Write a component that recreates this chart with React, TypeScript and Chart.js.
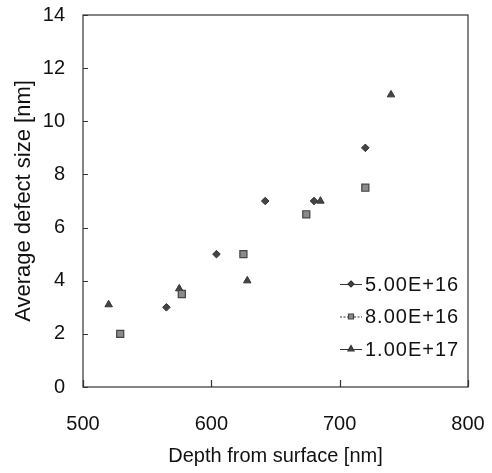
import React, { useEffect, useRef } from "react";
import { Chart, registerables } from "chart.js";

Chart.register(...registerables);

const seriesLabels = ["5.00E+16", "8.00E+16", "1.00E+17"];
const depth5e16 = [565, 604, 642, 680, 720];
const size5e16 = [3.0, 5.0, 7.0, 7.0, 9.0];
const depth8e16 = [529, 577, 625, 674, 720];
const size8e16 = [2.0, 3.5, 5.0, 6.5, 7.5];
const depth1e17 = [520, 575, 628, 685, 740];
const size1e17 = [3.1, 3.7, 4.0, 7.0, 11.0];
const xTicks = [500, 600, 700, 800];
const yTicks = [0, 2, 4, 6, 8, 10, 12, 14];

const FONT = "'Liberation Sans', Arial, sans-serif";

const toPoints = (xs: number[], ys: number[]) => xs.map((x, i) => ({ x, y: ys[i] }));

const framePlugin = {
  id: "frame",
  afterDraw(chart: any) {
    const { ctx, chartArea } = chart;
    const { left, right, top, bottom } = chartArea;
    const xs = chart.scales.x;
    const ys = chart.scales.y;
    ctx.save();
    ctx.strokeStyle = "#333";
    ctx.lineWidth = 1.2;
    ctx.strokeRect(left, top, right - left, bottom - top);
    ctx.beginPath();
    yTicks.forEach((v) => {
      const p = Math.round(ys.getPixelForValue(v)) + 0.5;
      ctx.moveTo(left, p);
      ctx.lineTo(left + 5, p);
    });
    xTicks.forEach((v) => {
      const p = Math.round(xs.getPixelForValue(v)) + 0.5;
      ctx.moveTo(p, bottom);
      ctx.lineTo(p, bottom - 7);
    });
    ctx.stroke();

    // legend
    const rowY = [284, 316.5, 349];
    const lineX0 = 340;
    const lineX1 = 362;
    const textX = 365;
    chart.data.datasets.forEach((ds: any, i: number) => {
      const y = rowY[i];
      ctx.save();
      ctx.strokeStyle = "#333";
      ctx.lineWidth = 1;
      if (i === 1) ctx.setLineDash([2, 1.5]);
      ctx.beginPath();
      ctx.moveTo(lineX0, y + 0.5);
      ctx.lineTo(lineX1, y + 0.5);
      ctx.stroke();
      ctx.restore();
      const cx = (lineX0 + lineX1) / 2;
      ctx.fillStyle = ds.backgroundColor;
      ctx.strokeStyle = ds.borderColor;
      ctx.beginPath();
      if (ds.pointStyle === "rectRot") {
        ctx.moveTo(cx, y - 3);
        ctx.lineTo(cx + 3, y);
        ctx.lineTo(cx, y + 3);
        ctx.lineTo(cx - 3, y);
        ctx.closePath();
      } else if (ds.pointStyle === "rect") {
        ctx.rect(cx - 2.5, y - 2.5, 5, 5);
      } else {
        ctx.moveTo(cx, y - 3.5);
        ctx.lineTo(cx + 3, y + 1.8);
        ctx.lineTo(cx - 3, y + 1.8);
        ctx.closePath();
      }
      ctx.fill();
      ctx.stroke();
      ctx.fillStyle = "#111";
      ctx.font = `20px ${FONT}`;
      try {
        (ctx as any).letterSpacing = "1px";
      } catch (e) {}
      ctx.textAlign = "left";
      ctx.textBaseline = "middle";
      ctx.fillText(ds.label, textX, y + 1);
      try {
        (ctx as any).letterSpacing = "0px";
      } catch (e) {}
    });
    ctx.restore();
  },
};

export default function App() {
  const canvasRef = useRef<HTMLCanvasElement | null>(null);

  useEffect(() => {
    const canvas = canvasRef.current;
    if (!canvas) return;
    const chart = new Chart(canvas, {
      type: "scatter",
      data: {
        datasets: [
          {
            label: seriesLabels[0],
            data: toPoints(depth5e16, size5e16),
            pointStyle: "rectRot",
            pointRadius: 3.8,
            backgroundColor: "#444",
            borderColor: "#333",
            borderWidth: 1,
          },
          {
            label: seriesLabels[1],
            data: toPoints(depth8e16, size8e16),
            pointStyle: "rect",
            pointRadius: 5,
            backgroundColor: "#8a8a8a",
            borderColor: "#444",
            borderWidth: 1.2,
          },
          {
            label: seriesLabels[2],
            data: toPoints(depth1e17, size1e17),
            pointStyle: "triangle",
            pointRadius: 4.3,
            backgroundColor: "#444",
            borderColor: "#333",
            borderWidth: 1,
          },
        ],
      } as any,
      options: {
        animation: false,
        responsive: true,
        maintainAspectRatio: false,
        layout: { padding: { left: 0, top: 15, right: 24, bottom: 0 } },
        plugins: {
          legend: { display: false },
          tooltip: { enabled: false },
        },
        scales: {
          x: {
            type: "linear",
            min: 500,
            max: 800,
            afterFit: (s: any) => {
              s.height = 86;
              s.paddingLeft = 0;
              s.paddingRight = 0;
            },
            afterBuildTicks: (s: any) => {
              s.ticks = xTicks.map((v) => ({ value: v }));
            },
            grid: { display: false, drawTicks: false },
            border: { display: false },
            ticks: {
              padding: 25,
              color: "#111",
              font: { family: FONT, size: 20 },
              maxRotation: 0,
            },
            title: {
              display: true,
              text: "Depth from surface [nm]",
              color: "#111",
              font: { family: FONT, size: 20 },
              padding: { top: 0, bottom: 5 },
            },
          },
          y: {
            type: "linear",
            min: 0,
            max: 14,
            afterFit: (s: any) => {
              s.width = 83;
              s.paddingTop = 0;
              s.paddingBottom = 0;
            },
            afterBuildTicks: (s: any) => {
              s.ticks = yTicks.map((v) => ({ value: v }));
            },
            grid: { display: false, drawTicks: false },
            border: { display: false },
            ticks: {
              padding: 18,
              color: "#111",
              font: { family: FONT, size: 20 },
            },
            title: {
              display: true,
              text: "Average defect size [nm]",
              color: "#111",
              font: { family: FONT, size: 22 },
              padding: { top: 10.5, bottom: 0 },
            },
          },
        },
      } as any,
      plugins: [framePlugin],
    });
    return () => chart.destroy();
  }, []);

  return (
    <div
      style={{
        position: "absolute",
        left: 0,
        top: 0,
        width: 492,
        height: 473,
        background: "#fff",
      }}
    >
      <canvas ref={canvasRef} />
    </div>
  );
}
